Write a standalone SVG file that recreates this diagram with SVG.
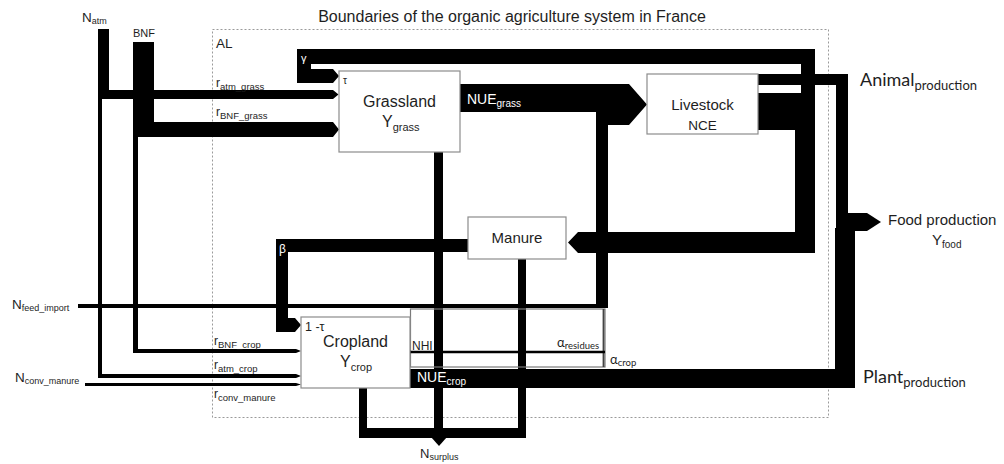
<svg xmlns="http://www.w3.org/2000/svg" width="1004" height="464" viewBox="0 0 1004 464">
<style>
  .flow { fill: #000; stroke: none; }
  .box { fill: #fff; stroke: #8c8c8c; stroke-width: 1.2; }
  .t { font-family: "Liberation Sans", Arial, sans-serif; fill: #1e1e1e; }
  .c { font-family: Lato, "Liberation Sans", sans-serif; fill: #1e1e1e; }
  .w { fill: #fff; }
</style>
<rect width="1004" height="464" fill="#fff"/>

<text class="t" x="512" y="22" font-size="16" text-anchor="middle">Boundaries of the organic agriculture system in France</text>
<rect x="212.5" y="29.5" width="616" height="388" fill="none" stroke="#9a9a9a" stroke-width="1" stroke-dasharray="2 2"/>
<text class="t" x="216" y="48" font-size="13.5">AL</text>

<g id="connectors">
  <!-- N_atm -->
  <path class="flow" d="M98,29 H109 V90 H333 L338.5,94.5 L333,99 H102 V374 H296 L301,376 L296,378 H98 Z"/>
  <!-- BNF -->
  <path class="flow" d="M133,42 H154 V122 H333 L339,129.5 L333,137 H138 V349 H296 L301,351 L296,353 H133 Z"/>
  <!-- N_conv_manure -->
  <path class="flow" d="M85,383 H296 L301,384.5 L296,386 H85 Z"/>
  <!-- NUE_grass + feed import -->
  <path class="flow" d="M460,84 H629 L647,104.5 L629,125 H608 V308 H78 V304 H596 V112 H460 Z"/>
  <!-- gamma loop -->
  <path class="flow" d="M297,49 H815 V93 H801 V64 H311 V69 H333 L339,76 L333,83 H297 Z"/>
  <!-- livestock to manure -->
  <path class="flow" d="M758,93 H815 V253 H578 L568,242.5 L578,232 H795 V130 H758 Z"/>
  <!-- animal production -->
  <path class="flow" d="M758,74 H848 V231 H836 V85 H758 Z"/>
  <!-- food production arrow -->
  <path class="flow" d="M848,213 H867 L881,222 L867,231 H848 Z"/>
  <!-- plant production -->
  <path class="flow" d="M410,369 H835 V228 H855 V388 H410 Z"/>
  <!-- manure beta to cropland -->
  <path class="flow" d="M468,239 V252 H288 V318 H295 L301,325 L295,332 H276 V239 Z"/>
  <!-- surplus -->
  <rect class="flow" x="434" y="152" width="9" height="286"/>
  <rect class="flow" x="359" y="388" width="8" height="50"/>
  <rect class="flow" x="518" y="259" width="8" height="179"/>
  <rect class="flow" x="359" y="428" width="167" height="10"/>
  <polygon class="flow" points="431,437 447,437 439,446"/>
  <!-- alpha / NHI -->
  <rect x="410.5" y="309" width="194.5" height="58" fill="none" stroke="#7a7a7a" stroke-width="1.2"/>
  <line x1="603.5" y1="309" x2="603.5" y2="367" stroke="#444" stroke-width="1.8"/>
  <line x1="410" y1="352" x2="605" y2="352" stroke="#000" stroke-width="2.6"/>
</g>

<g id="grassland">
  <rect class="box" x="339" y="71" width="121" height="81"/>
  <text class="t" x="399.5" y="107" font-size="16" text-anchor="middle">Grassland</text>
  <text class="t" x="382" y="127" font-size="16">Y<tspan font-size="11" dy="4">grass</tspan></text>
  <text class="t" x="343" y="84" font-size="10">τ</text>
</g>

<g id="livestock">
  <rect class="box" x="647" y="74" width="111" height="60"/>
  <text class="t" x="702.5" y="110" font-size="15" text-anchor="middle">Livestock</text>
  <text class="t" x="702.5" y="130" font-size="13.5" text-anchor="middle">NCE</text>
</g>

<g id="manure">
  <rect class="box" x="468" y="217" width="98" height="42"/>
  <text class="t" x="517" y="243" font-size="15" text-anchor="middle">Manure</text>
</g>

<g id="cropland">
  <rect class="box" x="301" y="317" width="109" height="71"/>
  <text class="t" x="355.5" y="347" font-size="16" text-anchor="middle">Cropland</text>
  <text class="t" x="340" y="367" font-size="16">Y<tspan font-size="11" dy="4">crop</tspan></text>
  <text class="t" x="305" y="331" font-size="12.5">1 -τ</text>
</g>

<g id="labels">
  <text class="t" x="82" y="22" font-size="13.5">N<tspan font-size="9" dy="2">atm</tspan></text>
  <text class="t" x="133" y="37" font-size="11">BNF</text>
  <text class="t" x="216" y="87" font-size="12">r<tspan font-size="9.5" dy="3">atm_grass</tspan></text>
  <text class="t" x="216" y="116" font-size="12">r<tspan font-size="9.5" dy="3">BNF_grass</tspan></text>
  <text class="t" x="214" y="345" font-size="12">r<tspan font-size="9.5" dy="3">BNF_crop</tspan></text>
  <text class="t" x="214" y="369" font-size="12">r<tspan font-size="9.5" dy="3">atm_crop</tspan></text>
  <text class="t" x="214" y="398" font-size="12">r<tspan font-size="9.5" dy="3">conv_manure</tspan></text>
  <text class="t" x="12" y="309" font-size="13.5">N<tspan font-size="9" dy="2">feed_import</tspan></text>
  <text class="t" x="15" y="382" font-size="13.5">N<tspan font-size="9" dy="2">conv_manure</tspan></text>
  <text class="t w" x="301" y="62" font-size="11">γ</text>
  <text class="t w" x="467" y="104" font-size="14">NUE<tspan font-size="10" dy="3">grass</tspan></text>
  <text class="t w" x="279" y="253" font-size="12">β</text>
  <text class="t" x="412" y="350" font-size="12">NHI</text>
  <text class="t w" x="417" y="382" font-size="14">NUE<tspan font-size="10" dy="3">crop</tspan></text>
  <text class="c" x="557" y="347" font-size="13">α<tspan font-size="9.5" dy="2">residues</tspan></text>
  <text class="c" x="610" y="364" font-size="13">α<tspan font-size="9.5" dy="2">crop</tspan></text>
  <text class="t" x="420" y="458" font-size="13">N<tspan font-size="9" dy="2">surplus</tspan></text>
  <text class="c" x="860" y="86" font-size="18">Animal<tspan font-size="13" dy="4">production</tspan></text>
  <text class="c" x="863" y="383" font-size="18">Plant<tspan font-size="13" dy="4">production</tspan></text>
  <text class="t" x="888" y="225" font-size="15">Food production</text>
  <text class="t" x="932" y="245" font-size="15">Y<tspan font-size="10" dy="3">food</tspan></text>
</g>
</svg>
